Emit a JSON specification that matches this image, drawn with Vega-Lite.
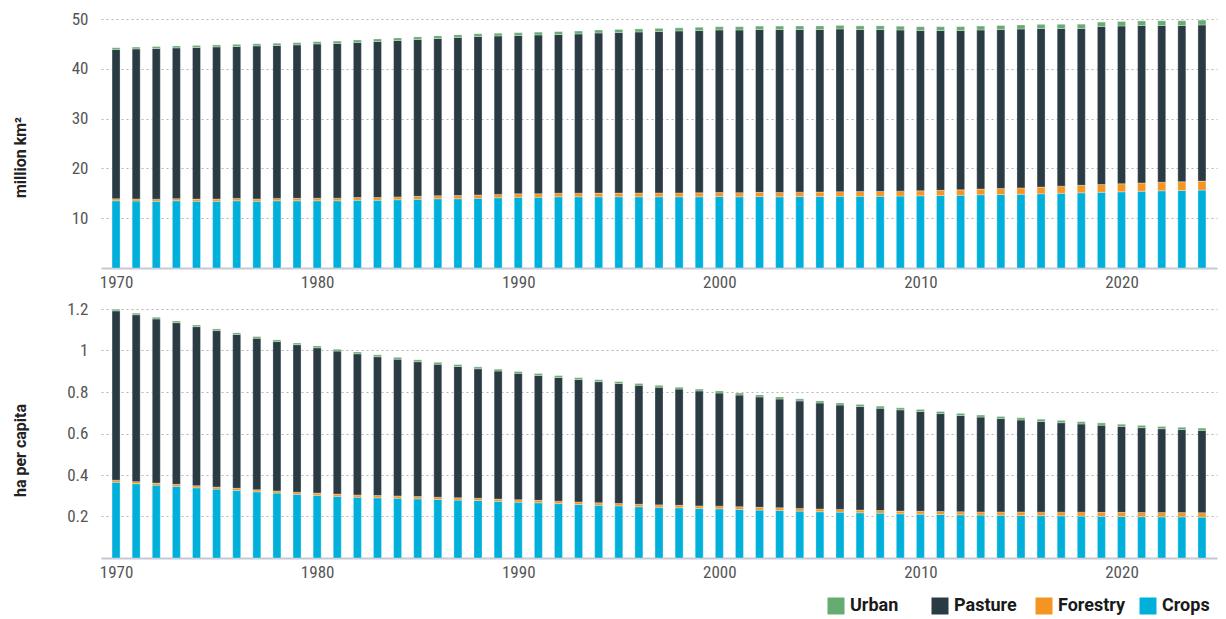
{
  "$schema": "https://vega.github.io/schema/vega-lite/v6.json",
  "padding": {"left": 12, "top": 10, "right": 4, "bottom": 4},
  "background": "white",
  "config": {
    "font": "Roboto",
    "view": {"stroke": null},
    "axis": {"labelFont": "Roboto Condensed, Liberation Sans Narrow, Roboto", "labelFontSize": 17, "labelColor": "#555555", "titleFont": "Roboto", "titleFontSize": 16, "titleFontWeight": "bold", "titleColor": "#222222"},
    "concat": {"spacing": 10}
  },
  "datasets": {
    "area": [
      {"year":1970,"Crops":13.5,"Forestry":0.40,"Pasture":30.00,"Urban":0.35},
      {"year":1971,"Crops":13.45,"Forestry":0.41,"Pasture":30.14,"Urban":0.36},
      {"year":1972,"Crops":13.4,"Forestry":0.42,"Pasture":30.28,"Urban":0.37},
      {"year":1973,"Crops":13.5,"Forestry":0.43,"Pasture":30.27,"Urban":0.38},
      {"year":1974,"Crops":13.4,"Forestry":0.44,"Pasture":30.46,"Urban":0.39},
      {"year":1975,"Crops":13.4,"Forestry":0.45,"Pasture":30.55,"Urban":0.40},
      {"year":1976,"Crops":13.5,"Forestry":0.46,"Pasture":30.54,"Urban":0.41},
      {"year":1977,"Crops":13.4,"Forestry":0.47,"Pasture":30.73,"Urban":0.42},
      {"year":1978,"Crops":13.5,"Forestry":0.48,"Pasture":30.72,"Urban":0.43},
      {"year":1979,"Crops":13.5,"Forestry":0.49,"Pasture":30.81,"Urban":0.44},
      {"year":1980,"Crops":13.5,"Forestry":0.50,"Pasture":31.00,"Urban":0.45},
      {"year":1981,"Crops":13.5,"Forestry":0.52,"Pasture":31.08,"Urban":0.46},
      {"year":1982,"Crops":13.6,"Forestry":0.54,"Pasture":31.16,"Urban":0.47},
      {"year":1983,"Crops":13.6,"Forestry":0.56,"Pasture":31.34,"Urban":0.48},
      {"year":1984,"Crops":13.7,"Forestry":0.58,"Pasture":31.42,"Urban":0.49},
      {"year":1985,"Crops":13.8,"Forestry":0.60,"Pasture":31.50,"Urban":0.50},
      {"year":1986,"Crops":13.9,"Forestry":0.62,"Pasture":31.58,"Urban":0.51},
      {"year":1987,"Crops":13.9,"Forestry":0.64,"Pasture":31.76,"Urban":0.52},
      {"year":1988,"Crops":14.0,"Forestry":0.66,"Pasture":31.84,"Urban":0.53},
      {"year":1989,"Crops":14.1,"Forestry":0.68,"Pasture":31.82,"Urban":0.54},
      {"year":1990,"Crops":14.2,"Forestry":0.70,"Pasture":31.80,"Urban":0.55},
      {"year":1991,"Crops":14.2,"Forestry":0.71,"Pasture":31.89,"Urban":0.56},
      {"year":1992,"Crops":14.3,"Forestry":0.72,"Pasture":31.88,"Urban":0.57},
      {"year":1993,"Crops":14.3,"Forestry":0.73,"Pasture":31.97,"Urban":0.58},
      {"year":1994,"Crops":14.3,"Forestry":0.74,"Pasture":32.16,"Urban":0.59},
      {"year":1995,"Crops":14.3,"Forestry":0.75,"Pasture":32.25,"Urban":0.60},
      {"year":1996,"Crops":14.3,"Forestry":0.76,"Pasture":32.34,"Urban":0.61},
      {"year":1997,"Crops":14.3,"Forestry":0.77,"Pasture":32.43,"Urban":0.62},
      {"year":1998,"Crops":14.3,"Forestry":0.78,"Pasture":32.52,"Urban":0.63},
      {"year":1999,"Crops":14.3,"Forestry":0.79,"Pasture":32.61,"Urban":0.64},
      {"year":2000,"Crops":14.35,"Forestry":0.80,"Pasture":32.65,"Urban":0.65},
      {"year":2001,"Crops":14.3,"Forestry":0.82,"Pasture":32.68,"Urban":0.66},
      {"year":2002,"Crops":14.35,"Forestry":0.84,"Pasture":32.71,"Urban":0.67},
      {"year":2003,"Crops":14.3,"Forestry":0.86,"Pasture":32.74,"Urban":0.68},
      {"year":2004,"Crops":14.35,"Forestry":0.88,"Pasture":32.67,"Urban":0.69},
      {"year":2005,"Crops":14.35,"Forestry":0.90,"Pasture":32.65,"Urban":0.70},
      {"year":2006,"Crops":14.4,"Forestry":0.92,"Pasture":32.68,"Urban":0.71},
      {"year":2007,"Crops":14.4,"Forestry":0.94,"Pasture":32.56,"Urban":0.72},
      {"year":2008,"Crops":14.4,"Forestry":0.96,"Pasture":32.54,"Urban":0.73},
      {"year":2009,"Crops":14.45,"Forestry":0.98,"Pasture":32.37,"Urban":0.74},
      {"year":2010,"Crops":14.5,"Forestry":1.00,"Pasture":32.20,"Urban":0.75},
      {"year":2011,"Crops":14.55,"Forestry":1.05,"Pasture":32.10,"Urban":0.76},
      {"year":2012,"Crops":14.6,"Forestry":1.10,"Pasture":32.00,"Urban":0.77},
      {"year":2013,"Crops":14.7,"Forestry":1.15,"Pasture":31.95,"Urban":0.78},
      {"year":2014,"Crops":14.75,"Forestry":1.20,"Pasture":31.95,"Urban":0.79},
      {"year":2015,"Crops":14.8,"Forestry":1.28,"Pasture":31.92,"Urban":0.80},
      {"year":2016,"Crops":14.9,"Forestry":1.35,"Pasture":31.85,"Urban":0.82},
      {"year":2017,"Crops":15.0,"Forestry":1.42,"Pasture":31.68,"Urban":0.84},
      {"year":2018,"Crops":15.1,"Forestry":1.50,"Pasture":31.50,"Urban":0.86},
      {"year":2019,"Crops":15.2,"Forestry":1.56,"Pasture":31.74,"Urban":0.88},
      {"year":2020,"Crops":15.3,"Forestry":1.62,"Pasture":31.68,"Urban":0.90},
      {"year":2021,"Crops":15.4,"Forestry":1.67,"Pasture":31.63,"Urban":0.92},
      {"year":2022,"Crops":15.5,"Forestry":1.72,"Pasture":31.48,"Urban":0.94},
      {"year":2023,"Crops":15.55,"Forestry":1.76,"Pasture":31.39,"Urban":0.96},
      {"year":2024,"Crops":15.65,"Forestry":1.80,"Pasture":31.35,"Urban":0.98}
    ],
    "percap": [
      {"year":1970,"Crops":0.365,"Forestry":0.010,"Pasture":0.816,"Urban":0.008},
      {"year":1971,"Crops":0.358,"Forestry":0.010,"Pasture":0.804,"Urban":0.008},
      {"year":1972,"Crops":0.351,"Forestry":0.010,"Pasture":0.791,"Urban":0.008},
      {"year":1973,"Crops":0.345,"Forestry":0.010,"Pasture":0.779,"Urban":0.008},
      {"year":1974,"Crops":0.338,"Forestry":0.010,"Pasture":0.767,"Urban":0.008},
      {"year":1975,"Crops":0.332,"Forestry":0.010,"Pasture":0.754,"Urban":0.008},
      {"year":1976,"Crops":0.326,"Forestry":0.010,"Pasture":0.741,"Urban":0.008},
      {"year":1977,"Crops":0.319,"Forestry":0.010,"Pasture":0.730,"Urban":0.008},
      {"year":1978,"Crops":0.313,"Forestry":0.010,"Pasture":0.720,"Urban":0.008},
      {"year":1979,"Crops":0.307,"Forestry":0.010,"Pasture":0.711,"Urban":0.008},
      {"year":1980,"Crops":0.302,"Forestry":0.011,"Pasture":0.700,"Urban":0.009},
      {"year":1981,"Crops":0.297,"Forestry":0.011,"Pasture":0.689,"Urban":0.009},
      {"year":1982,"Crops":0.293,"Forestry":0.011,"Pasture":0.680,"Urban":0.009},
      {"year":1983,"Crops":0.290,"Forestry":0.011,"Pasture":0.669,"Urban":0.009},
      {"year":1984,"Crops":0.288,"Forestry":0.011,"Pasture":0.659,"Urban":0.009},
      {"year":1985,"Crops":0.285,"Forestry":0.011,"Pasture":0.650,"Urban":0.009},
      {"year":1986,"Crops":0.282,"Forestry":0.011,"Pasture":0.641,"Urban":0.009},
      {"year":1987,"Crops":0.279,"Forestry":0.011,"Pasture":0.633,"Urban":0.009},
      {"year":1988,"Crops":0.277,"Forestry":0.011,"Pasture":0.624,"Urban":0.009},
      {"year":1989,"Crops":0.273,"Forestry":0.011,"Pasture":0.617,"Urban":0.009},
      {"year":1990,"Crops":0.269,"Forestry":0.012,"Pasture":0.609,"Urban":0.009},
      {"year":1991,"Crops":0.266,"Forestry":0.012,"Pasture":0.602,"Urban":0.009},
      {"year":1992,"Crops":0.262,"Forestry":0.012,"Pasture":0.596,"Urban":0.009},
      {"year":1993,"Crops":0.258,"Forestry":0.012,"Pasture":0.590,"Urban":0.009},
      {"year":1994,"Crops":0.254,"Forestry":0.012,"Pasture":0.584,"Urban":0.009},
      {"year":1995,"Crops":0.251,"Forestry":0.012,"Pasture":0.578,"Urban":0.009},
      {"year":1996,"Crops":0.247,"Forestry":0.012,"Pasture":0.573,"Urban":0.009},
      {"year":1997,"Crops":0.244,"Forestry":0.012,"Pasture":0.567,"Urban":0.009},
      {"year":1998,"Crops":0.242,"Forestry":0.012,"Pasture":0.560,"Urban":0.009},
      {"year":1999,"Crops":0.239,"Forestry":0.012,"Pasture":0.554,"Urban":0.009},
      {"year":2000,"Crops":0.237,"Forestry":0.013,"Pasture":0.545,"Urban":0.010},
      {"year":2001,"Crops":0.234,"Forestry":0.013,"Pasture":0.538,"Urban":0.010},
      {"year":2002,"Crops":0.231,"Forestry":0.013,"Pasture":0.532,"Urban":0.010},
      {"year":2003,"Crops":0.229,"Forestry":0.013,"Pasture":0.524,"Urban":0.010},
      {"year":2004,"Crops":0.226,"Forestry":0.013,"Pasture":0.518,"Urban":0.010},
      {"year":2005,"Crops":0.223,"Forestry":0.013,"Pasture":0.511,"Urban":0.010},
      {"year":2006,"Crops":0.221,"Forestry":0.013,"Pasture":0.503,"Urban":0.010},
      {"year":2007,"Crops":0.218,"Forestry":0.013,"Pasture":0.499,"Urban":0.010},
      {"year":2008,"Crops":0.216,"Forestry":0.013,"Pasture":0.493,"Urban":0.010},
      {"year":2009,"Crops":0.213,"Forestry":0.013,"Pasture":0.488,"Urban":0.010},
      {"year":2010,"Crops":0.211,"Forestry":0.014,"Pasture":0.481,"Urban":0.010},
      {"year":2011,"Crops":0.210,"Forestry":0.014,"Pasture":0.472,"Urban":0.010},
      {"year":2012,"Crops":0.208,"Forestry":0.015,"Pasture":0.464,"Urban":0.010},
      {"year":2013,"Crops":0.207,"Forestry":0.015,"Pasture":0.457,"Urban":0.010},
      {"year":2014,"Crops":0.206,"Forestry":0.016,"Pasture":0.450,"Urban":0.010},
      {"year":2015,"Crops":0.205,"Forestry":0.017,"Pasture":0.443,"Urban":0.011},
      {"year":2016,"Crops":0.204,"Forestry":0.017,"Pasture":0.437,"Urban":0.011},
      {"year":2017,"Crops":0.203,"Forestry":0.018,"Pasture":0.431,"Urban":0.011},
      {"year":2018,"Crops":0.202,"Forestry":0.019,"Pasture":0.425,"Urban":0.011},
      {"year":2019,"Crops":0.201,"Forestry":0.019,"Pasture":0.420,"Urban":0.011},
      {"year":2020,"Crops":0.200,"Forestry":0.020,"Pasture":0.414,"Urban":0.011},
      {"year":2021,"Crops":0.199,"Forestry":0.020,"Pasture":0.409,"Urban":0.011},
      {"year":2022,"Crops":0.198,"Forestry":0.021,"Pasture":0.404,"Urban":0.011},
      {"year":2023,"Crops":0.198,"Forestry":0.021,"Pasture":0.400,"Urban":0.011},
      {"year":2024,"Crops":0.197,"Forestry":0.021,"Pasture":0.397,"Urban":0.011}
    ]
  },
  "vconcat": [
    {
      "width": 1116,
      "height": 249,
      "data": {"name": "area"},
      "transform": [{"fold": ["Crops", "Forestry", "Pasture", "Urban"], "as": ["type", "value"]}],
      "mark": {"type": "bar", "width": 8, "stroke": "#ffffff", "strokeWidth": 0.5, "strokeOpacity": 0.6},
      "encoding": {
        "x": {"field": "year", "type": "quantitative", "scale": {"domain": [1969.5, 2024.5], "nice": false, "zero": false},
          "axis": {"title": null, "values": [1970, 1980, 1990, 2000, 2010, 2020], "format": "d", "ticks": false, "grid": false, "domainColor": "#c6c8d3", "domainWidth": 2, "labelPadding": 6}},
        "y": {"field": "value", "type": "quantitative", "stack": "zero", "scale": {"domain": [0, 50], "nice": false},
          "axis": {"title": "million km²", "values": [10, 20, 30, 40, 50], "ticks": false, "domain": false, "grid": true, "gridDash": [2, 3], "gridColor": "#b5b5b5", "gridWidth": 1, "labelPadding": 13, "titleX": -81, "titleY": 138, "titleAngle": -90, "titleAlign": "center", "titleBaseline": "middle"}},
        "color": {"field": "type", "type": "nominal",
          "scale": {"domain": ["Urban", "Pasture", "Forestry", "Crops"], "range": ["#66ac72", "#2a3b44", "#f39423", "#00b0da"]},
          "legend": {"title": null, "orient": "none", "legendX": 726, "legendY": 578, "direction": "horizontal", "columns": 4, "gridAlign": "all", "columnPadding": 13, "symbolType": "square", "symbolSize": 289, "symbolStrokeWidth": 0, "symbolOpacity": 1, "labelFont": "Roboto", "labelFontSize": 18, "labelFontWeight": "bold", "labelColor": "#1a1a1a", "labelOffset": 5}},
        "order": {"field": "type", "sort": "ascending"}
      }
    },
    {
      "width": 1116,
      "height": 249,
      "data": {"name": "percap"},
      "transform": [{"fold": ["Crops", "Forestry", "Pasture", "Urban"], "as": ["type", "value"]}],
      "mark": {"type": "bar", "width": 8, "stroke": "#ffffff", "strokeWidth": 0.5, "strokeOpacity": 0.6},
      "encoding": {
        "x": {"field": "year", "type": "quantitative", "scale": {"domain": [1969.5, 2024.5], "nice": false, "zero": false},
          "axis": {"title": null, "values": [1970, 1980, 1990, 2000, 2010, 2020], "format": "d", "ticks": false, "grid": false, "domainColor": "#c6c8d3", "domainWidth": 2, "labelPadding": 6}},
        "y": {"field": "value", "type": "quantitative", "stack": "zero", "scale": {"domain": [0, 1.2], "nice": false},
          "axis": {"title": "ha per capita", "values": [0.2, 0.4, 0.6, 0.8, 1, 1.2], "format": "~g", "ticks": false, "domain": false, "grid": true, "gridDash": [2, 3], "gridColor": "#b5b5b5", "gridWidth": 1, "labelPadding": 13, "titleX": -81, "titleY": 141, "titleAngle": -90, "titleAlign": "center", "titleBaseline": "middle"}},
        "color": {"field": "type", "type": "nominal",
          "scale": {"domain": ["Urban", "Pasture", "Forestry", "Crops"], "range": ["#66ac72", "#2a3b44", "#f39423", "#00b0da"]}},
        "order": {"field": "type", "sort": "ascending"}
      }
    }
  ],
  "resolve": {"scale": {"color": "shared"}}
}
